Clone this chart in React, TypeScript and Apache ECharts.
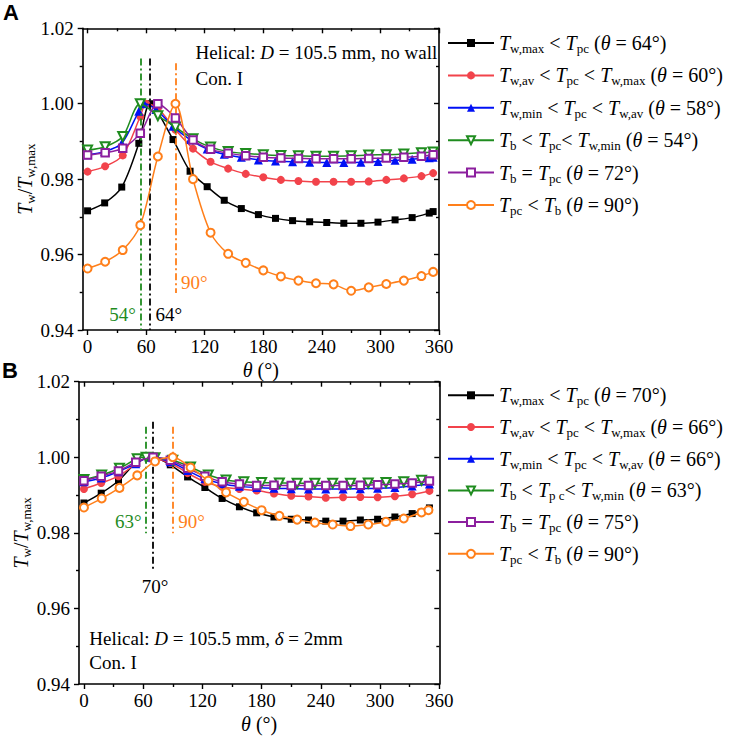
import React, { useEffect, useRef } from 'react';
import * as echarts from 'echarts';

const SERIF = 'Liberation Serif';
const BLACK = '#000000';
const RED = '#f2434b';
const BLUE = '#0010f5';
const GREEN = '#1f8c1f';
const PURPLE = '#8c1f9e';
const ORANGE = '#ff7f1a';

// ---------- tick labels ----------
const X_MAJOR = [0, 60, 120, 180, 240, 300, 360];
const X_MINOR = [30, 90, 150, 210, 270, 330];

// ---------- panel A data ----------
const NAMES_A = [
  'T_{w,max} < T_{pc} (θ = 64°)',
  'T_{w,av} < T_{pc} < T_{w,max} (θ = 60°)',
  'T_{w,min} < T_{pc} < T_{w,av} (θ = 58°)',
  'T_{b} < T_{pc}< T_{w,min} (θ = 54°)',
  'T_{b} = T_{pc} (θ = 72°)',
  'T_{pc} < T_{b} (θ = 90°)',
];
const thetaA_black = [0, 17.5, 35, 52.5, 64, 87.5, 105, 122.5, 140, 157.5, 175, 192.5, 210, 227.5, 245, 262.5, 280, 297.5, 315, 332.5, 350, 354];
const valA_black = [0.9716, 0.9737, 0.9779, 0.9895, 1.0, 0.9905, 0.9821, 0.978, 0.9744, 0.9722, 0.9706, 0.9696, 0.969, 0.9687, 0.9685, 0.9683, 0.9683, 0.9686, 0.9692, 0.9698, 0.971, 0.9714];
const thetaA_red = [0, 18, 36, 54, 60, 72, 90, 108, 126, 144, 162, 180, 198, 216, 234, 252, 270, 288, 306, 324, 342, 354];
const valA_red = [0.982, 0.9834, 0.9863, 0.9966, 1.0, 0.9988, 0.9931, 0.9881, 0.9846, 0.9828, 0.9814, 0.9805, 0.9798, 0.9795, 0.9793, 0.9793, 0.9793, 0.9794, 0.9798, 0.9802, 0.9808, 0.9816];
const thetaA_blue = [0, 17.5, 35, 52.5, 58, 70, 87.5, 105, 122.5, 140, 157.5, 175, 192.5, 210, 227.5, 245, 262.5, 280, 297.5, 315, 332.5, 350, 354];
const valA_blue = [0.9865, 0.9873, 0.9895, 0.998, 1.0, 0.9985, 0.994, 0.9905, 0.988, 0.9866, 0.9858, 0.9851, 0.9848, 0.9846, 0.9845, 0.9844, 0.9844, 0.9845, 0.9847, 0.985, 0.9853, 0.9857, 0.9858];
const thetaA_green = [0, 18, 36, 54, 72, 90, 108, 126, 144, 162, 180, 198, 216, 234, 252, 270, 288, 306, 324, 342, 354];
const valA_green = [0.9877, 0.9886, 0.9913, 1.0, 0.9968, 0.9938, 0.9907, 0.9885, 0.9873, 0.9868, 0.9865, 0.9863, 0.9862, 0.9861, 0.9861, 0.9862, 0.9864, 0.9865, 0.9867, 0.987, 0.9872];
const thetaA_purple = [0, 18, 36, 54, 72, 90, 108, 126, 144, 162, 180, 198, 216, 234, 252, 270, 288, 306, 324, 342, 354];
const valA_purple = [0.9864, 0.987, 0.9882, 0.9922, 1.0, 0.9962, 0.9904, 0.9879, 0.9869, 0.9862, 0.9858, 0.9856, 0.9855, 0.9854, 0.9854, 0.9854, 0.9855, 0.9856, 0.9858, 0.9861, 0.9865];
const thetaA_orange = [0, 18, 36, 54, 72, 90, 108, 126, 144, 162, 180, 198, 216, 234, 252, 270, 288, 306, 324, 342, 354];
const valA_orange = [0.9563, 0.9581, 0.9612, 0.9678, 0.986, 1.0, 0.98, 0.9658, 0.9602, 0.9578, 0.9558, 0.9542, 0.9531, 0.9524, 0.9521, 0.9504, 0.9513, 0.9522, 0.9531, 0.9543, 0.9554];

// ---------- panel B data ----------
const NAMES_B = [
  'T_{w,max} < T_{pc} (θ = 70°)',
  'T_{w,av} < T_{pc} < T_{w,max} (θ = 66°)',
  'T_{w,min} < T_{pc} < T_{w,av} (θ = 66°)',
  'T_{b} < T_{p c}< T_{w,min} (θ = 63°)',
  'T_{b} = T_{pc} (θ = 75°)',
  'T_{pc} < T_{b} (θ = 90°)',
];
const thetaB_black = [0, 17.5, 35, 52.5, 70, 87.5, 105, 122.5, 140, 157.5, 175, 192.5, 210, 227.5, 245, 262.5, 280, 297.5, 315, 332.5, 350];
const valB_black = [0.9879, 0.9905, 0.9938, 0.9984, 1.0, 0.998, 0.9948, 0.992, 0.9891, 0.9869, 0.9853, 0.9842, 0.9836, 0.9834, 0.9831, 0.9831, 0.9834, 0.9836, 0.9842, 0.9851, 0.9866];
const thetaB_red = [0, 17.5, 35, 52.5, 66, 70, 87.5, 105, 122.5, 140, 157.5, 175, 192.5, 210, 227.5, 245, 262.5, 280, 297.5, 315, 332.5, 350];
const valB_red = [0.9916, 0.9932, 0.995, 0.9982, 1.0, 0.9998, 0.9985, 0.9958, 0.9935, 0.9922, 0.9916, 0.9912, 0.9904, 0.9898, 0.9896, 0.9893, 0.9894, 0.9895, 0.9894, 0.9897, 0.9902, 0.9911];
const thetaB_blue = [0, 17.5, 35, 52.5, 66, 70, 87.5, 105, 122.5, 140, 157.5, 175, 192.5, 210, 227.5, 245, 262.5, 280, 297.5, 315, 332.5, 350];
const valB_blue = [0.9935, 0.9945, 0.9962, 0.9983, 1.0, 0.9999, 0.9988, 0.9965, 0.9943, 0.993, 0.9923, 0.992, 0.9918, 0.9917, 0.9916, 0.9916, 0.9916, 0.9917, 0.9918, 0.992, 0.9924, 0.9929];
const thetaB_green = [0, 18, 36, 54, 63, 72, 90, 108, 126, 144, 162, 180, 198, 216, 234, 252, 270, 288, 306, 324, 342];
const valB_green = [0.9941, 0.9953, 0.9971, 0.9996, 1.0, 0.9999, 0.9992, 0.9974, 0.9953, 0.994, 0.9935, 0.9933, 0.9932, 0.9931, 0.9931, 0.9931, 0.9931, 0.9932, 0.9933, 0.9935, 0.9939];
const thetaB_purple = [0, 17.5, 35, 52.5, 70, 87.5, 105, 122.5, 140, 157.5, 175, 192.5, 210, 227.5, 245, 262.5, 280, 297.5, 315, 332.5, 350];
const valB_purple = [0.9938, 0.995, 0.9964, 0.9987, 1.0, 0.9992, 0.9971, 0.995, 0.9935, 0.9929, 0.9925, 0.9926, 0.9925, 0.9925, 0.9925, 0.9925, 0.9926, 0.9927, 0.9929, 0.9932, 0.9937];
const thetaB_orange = [0, 18, 36, 54, 72, 90, 108, 126, 144, 162, 180, 198, 216, 234, 252, 270, 288, 306, 324, 342, 349];
const valB_orange = [0.9867, 0.9891, 0.9919, 0.9952, 0.9989, 1.0, 0.9973, 0.9938, 0.9907, 0.9882, 0.986, 0.9845, 0.9835, 0.9827, 0.9822, 0.9818, 0.9822, 0.9829, 0.9838, 0.9854, 0.986];

// ---------- reference lines & notes ----------
const REF_A = [
  { theta: 54, top: 1.012, bottom: 0.94, color: GREEN },
  { theta: 64, top: 1.012, bottom: 0.94, color: BLACK },
  { theta: 90, top: 1.0107, bottom: 0.9498, color: ORANGE },
];
const TAGS_A = [
  { text: '54°', theta: 54, y: 0.944, side: 'left', color: GREEN },
  { text: '64°', theta: 64, y: 0.944, side: 'right', color: BLACK },
  { text: '90°', theta: 90, y: 0.9525, side: 'right', color: ORANGE },
  { text: 'Helical: D = 105.5 mm, no wall', theta: 110, y: 1.0135, side: 'right', color: BLACK },
  { text: 'Con. I', theta: 110, y: 1.0067, side: 'right', color: BLACK },
];
const REF_B = [
  { theta: 63, top: 1.0081, bottom: 0.9799, color: GREEN },
  { theta: 70, top: 1.0094, bottom: 0.9697, color: BLACK },
  { theta: 90, top: 1.0081, bottom: 0.9799, color: ORANGE },
];
const TAGS_B = [
  { text: '63°', theta: 63, y: 0.9831, side: 'left', color: GREEN },
  { text: '90°', theta: 90, y: 0.9831, side: 'right', color: ORANGE },
  { text: '70°', theta: 72, y: 0.9697, side: 'bottom', color: BLACK },
  { text: 'Helical: D = 105.5 mm, δ = 2mm', theta: 5, y: 0.9521, side: 'right', color: BLACK },
  { text: 'Con. I', theta: 5, y: 0.9456, side: 'right', color: BLACK },
];

const STYLES = [
  { color: BLACK, symbol: 'rect', size: 7, rotate: 0 },
  { color: RED, symbol: 'circle', size: 8, rotate: 0 },
  { color: BLUE, symbol: 'triangle', size: 9, rotate: 0 },
  { color: GREEN, symbol: 'emptyTriangle', size: 9, rotate: 180 },
  { color: PURPLE, symbol: 'emptyRect', size: 7.5, rotate: 0 },
  { color: ORANGE, symbol: 'emptyCircle', size: 8, rotate: 0 },
];

function toRich(src: string): string {
  let out = '';
  let buf = '';
  const flush = () => {
    if (buf) {
      out += '{n|' + buf + '}';
      buf = '';
    }
  };
  for (let i = 0; i < src.length; i++) {
    const c = src[i];
    if (c === '_' && src[i + 1] === '{') {
      const j = src.indexOf('}', i);
      flush();
      out += '{s|' + src.slice(i + 2, j) + '}';
      i = j;
    } else if ('TθDδ'.includes(c)) {
      flush();
      out += '{i|' + c + '}';
    } else buf += c;
  }
  flush();
  return out;
}

function rich(F: number, S: number, color = '#000') {
  return {
    n: { fontFamily: SERIF, fontSize: F, lineHeight: F + 4, color },
    i: { fontFamily: SERIF, fontSize: F, fontStyle: 'italic', lineHeight: F + 4, color },
    s: { fontFamily: SERIF, fontSize: S, lineHeight: S - 1, verticalAlign: 'bottom', color },
  };
}

const zip = (t: number[], v: number[]) => t.map((x, i) => [x, v[i]]);

function buildOption() {
  const axisLine = { show: true, onZero: false, lineStyle: { color: '#000', width: 1.6 } };
  const tickLine = { color: '#000', width: 1.4 };
  const xAxes: any[] = [];
  const yAxes: any[] = [];
  [0, 1].forEach((g) => {
    xAxes.push({
      gridIndex: g, type: 'value', position: 'bottom', min: -5, max: 360,
      axisLine,
      axisTick: { show: true, inside: false, length: 5, lineStyle: tickLine, customValues: X_MAJOR },
      axisLabel: { show: true, customValues: X_MAJOR, color: '#000', fontFamily: SERIF, fontSize: 19, margin: 7 },
      splitLine: { show: false },
      name: toRich('θ (°)'), nameLocation: 'middle', nameGap: 28,
      nameTextStyle: { color: '#000', fontFamily: SERIF, fontSize: 20, rich: rich(20, 13) },
    });
    xAxes.push({
      gridIndex: g, type: 'value', position: 'bottom', min: -5, max: 360,
      axisLine: { show: false },
      axisTick: { show: true, inside: false, length: 3, lineStyle: tickLine, customValues: X_MINOR },
      axisLabel: { show: false }, splitLine: { show: false },
    });
    xAxes.push({
      gridIndex: g, type: 'value', position: 'top', min: -5, max: 360,
      axisLine,
      axisTick: { show: true, inside: true, length: 5, lineStyle: tickLine, customValues: X_MAJOR },
      axisLabel: { show: false }, splitLine: { show: false },
    });
    xAxes.push({
      gridIndex: g, type: 'value', position: 'top', min: -5, max: 360,
      axisLine: { show: false },
      axisTick: { show: true, inside: true, length: 3, lineStyle: tickLine, customValues: X_MINOR },
      axisLabel: { show: false }, splitLine: { show: false },
    });
    yAxes.push({
      gridIndex: g, type: 'value', position: 'left', min: 0.94, max: 1.02, interval: 0.02,
      axisLine,
      axisTick: { show: true, inside: false, length: 5, lineStyle: tickLine },
      minorTick: { show: true, splitNumber: 2, length: 3, lineStyle: tickLine },
      axisLabel: { color: '#000', fontFamily: SERIF, fontSize: 19, margin: 9, formatter: (v: number) => v.toFixed(2) },
      splitLine: { show: false }, minorSplitLine: { show: false },
      name: toRich('T_{w}/T_{w,max}'), nameLocation: 'middle', nameRotate: 90, nameGap: g === 0 ? 46 : 43,
      nameTextStyle: { color: '#000', fontFamily: SERIF, fontSize: 20, rich: rich(20, 13) },
    });
    yAxes.push({
      gridIndex: g, type: 'value', position: 'right', min: 0.94, max: 1.02, interval: 0.02,
      axisLine,
      axisTick: { show: true, inside: true, length: 5, lineStyle: tickLine },
      minorTick: { show: true, splitNumber: 2, length: 3, lineStyle: tickLine },
      axisLabel: { show: false },
      splitLine: { show: false }, minorSplitLine: { show: false },
    });
  });

  const panelSeries = (names: string[], data: number[][][], xi: number, yi: number) =>
    names.map((name, k) => {
      const st = STYLES[k];
      const empty = st.symbol.startsWith('empty');
      return {
        type: 'line', name, xAxisIndex: xi, yAxisIndex: yi,
        data: data[k], smooth: 0.3, showAllSymbol: true,
        symbol: st.symbol, symbolSize: st.size, symbolRotate: st.rotate,
        lineStyle: { color: st.color, width: 1.5 },
        itemStyle: { color: st.color, borderColor: st.color, borderWidth: empty ? 1.3 : 0 },
        z: 2 + k,
      };
    });

  const noteSeries = (tags: any[], refs: any[], xi: number, yi: number) => ({
    type: 'scatter', xAxisIndex: xi, yAxisIndex: yi, symbolSize: 1, silent: true, z: 20,
    itemStyle: { color: 'rgba(0,0,0,0)' },
    label: { show: true, fontFamily: SERIF, fontSize: 19 },
    data: tags.map((t) => ({
      value: [t.theta, t.y],
      label: {
        show: true, position: t.side, color: t.color, opacity: 1,
        fontFamily: SERIF, fontSize: 19,
        rich: rich(19, 13, t.color),
        distance: t.side === 'left' ? 4 : t.side === 'bottom' ? 3 : t.text.length > 4 ? 0 : 5,
        formatter: () => toRich(t.text),
      },
    })),
    markLine: {
      symbol: ['none', 'none'], silent: true, animation: false,
      label: { show: false },
      lineStyle: { type: [7, 3, 2, 3], width: 1.8 },
      data: refs.map((r) => [
        { coord: [r.theta, r.top], lineStyle: { color: r.color, type: [7, 3, 2, 3], width: 1.8, opacity: 1 } },
        { coord: [r.theta, r.bottom] },
      ]),
    },
  });

  const dataA = [
    zip(thetaA_black, valA_black), zip(thetaA_red, valA_red), zip(thetaA_blue, valA_blue),
    zip(thetaA_green, valA_green), zip(thetaA_purple, valA_purple), zip(thetaA_orange, valA_orange),
  ];
  const dataB = [
    zip(thetaB_black, valB_black), zip(thetaB_red, valB_red), zip(thetaB_blue, valB_blue),
    zip(thetaB_green, valB_green), zip(thetaB_purple, valB_purple), zip(thetaB_orange, valB_orange),
  ];

  const legendBase = {
    orient: 'vertical', left: 447, itemWidth: 46, itemHeight: 10, padding: 0,
    selectedMode: false, formatter: (n: string) => toRich(n),
    textStyle: { color: '#000', fontFamily: SERIF, fontSize: 20, rich: rich(20, 13) },
  };

  return {
    animation: false,
    backgroundColor: '#ffffff',
    textStyle: { fontFamily: SERIF },
    grid: [
      { left: 82.7, top: 28.3, width: 356.3, height: 301.7 },
      { left: 79, top: 381.7, width: 360.3, height: 302.3 },
    ],
    xAxis: xAxes,
    yAxis: yAxes,
    legend: [
      { ...legendBase, top: 33, itemGap: 10.4, data: NAMES_A },
      { ...legendBase, top: 385.3, itemGap: 9.7, data: NAMES_B },
    ],
    graphic: [
      { type: 'text', left: 3, top: 1, style: { text: 'A', font: 'bold 22px Liberation Sans', fill: '#000' } },
      { type: 'text', left: 2, top: 359, style: { text: 'B', font: 'bold 22px Liberation Sans', fill: '#000' } },
    ],
    series: [
      ...panelSeries(NAMES_A, dataA, 0, 0),
      noteSeries(TAGS_A, REF_A, 0, 0),
      ...panelSeries(NAMES_B, dataB, 4, 2),
      noteSeries(TAGS_B, REF_B, 4, 2),
    ],
  };
}

export default function App() {
  const ref = useRef<HTMLDivElement>(null);
  useEffect(() => {
    if (!ref.current) return;
    const chart = echarts.init(ref.current, null, { renderer: 'svg' });
    chart.setOption(buildOption() as any);
    return () => chart.dispose();
  }, []);
  return (
    <div
      ref={ref}
      style={{ position: 'fixed', left: 0, top: 0, width: 733, height: 739, background: '#fff' }}
    />
  );
}
